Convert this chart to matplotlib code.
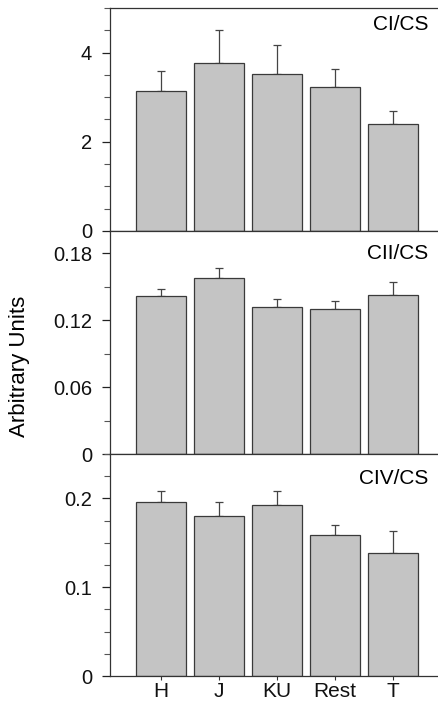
import matplotlib.pyplot as plt
import numpy as np

plt.rcParams['font.family'] = ['Liberation Sans', 'DejaVu Sans']

groups = ["H", "J", "KU", "Rest", "T"]

ci_cs = [3.14, 3.76, 3.51, 3.23, 2.39]
ci_cs_err = [0.44, 0.75, 0.66, 0.40, 0.31]

cii_cs = [0.142, 0.1575, 0.132, 0.1296, 0.143]
cii_cs_err = [0.0057, 0.0096, 0.0072, 0.0072, 0.0114]

civ_cs = [0.196, 0.1805, 0.1925, 0.159, 0.138]
civ_cs_err = [0.0125, 0.0157, 0.0155, 0.0105, 0.0252]

panels = [
    ("CI/CS", ci_cs, ci_cs_err, 5, [0, 2, 4], ["0", "2", "4"], 0.5, 0.924),
    ("CII/CS", cii_cs, cii_cs_err, 0.2, [0, 0.06, 0.12, 0.18], ["0", "0.06", "0.12", "0.18"], 0.03, 0.899),
    ("CIV/CS", civ_cs, civ_cs_err, 0.25, [0, 0.1, 0.2], ["0", "0.1", "0.2"], 0.025, 0.89),
]

W, H = 438, 705
fig = plt.figure(figsize=(W / 100, H / 100), dpi=100)

left = 110 / W
# panel edges in pixels from top
edges = [8, 231, 454, 676]
x = np.arange(len(groups))

for i, (name, vals, errs, top, yt, ylab, minor, ty) in enumerate(panels):
    b = 1 - edges[i + 1] / H
    h = (edges[i + 1] - edges[i]) / H
    ax = fig.add_axes([left, b, 1 - left, h])
    ax.bar(x, vals, width=0.86, color="#c4c4c4", edgecolor="#3a3a3a", linewidth=0.9, zorder=2)
    ax.errorbar(x, vals, yerr=[np.zeros(len(vals)), errs], fmt="none",
                ecolor="#444444", elinewidth=0.9, capsize=3, capthick=0.9, zorder=1)
    ax.set_xlim(-0.88, 4.78)
    ax.set_ylim(0, top)
    ax.set_yticks(yt)
    ax.set_yticklabels(ylab)
    ax.set_yticks(np.arange(0, top + 1e-9, minor), minor=True)
    ax.set_xticks(x)
    if i == 2:
        ax.set_xticklabels(groups)
    else:
        ax.set_xticklabels([])
    ax.tick_params(axis="y", which="major", direction="out", length=6, width=0.9,
                   labelsize=14.5, pad=7, colors="#222222")
    ax.tick_params(axis="y", which="minor", direction="out", length=4, width=0.8, colors="#555555")
    ax.tick_params(axis="x", direction="out", length=3, width=0.8, labelsize=15, pad=1.5,
                   colors="#333333")
    ax.tick_params(axis="both", labelcolor="#111111")
    for s in ["left", "bottom", "top"]:
        ax.spines[s].set_linewidth(0.9)
        ax.spines[s].set_color("#333333")
    ax.spines["right"].set_visible(False)
    ax.text(0.97, ty, name, transform=ax.transAxes, ha="right", va="center", fontsize=15)

fig.text(20 / W, 1 - 366 / H, "Arbitrary Units", rotation=90, ha="center", va="center", fontsize=16)

fig.savefig("out.png", dpi=100)
